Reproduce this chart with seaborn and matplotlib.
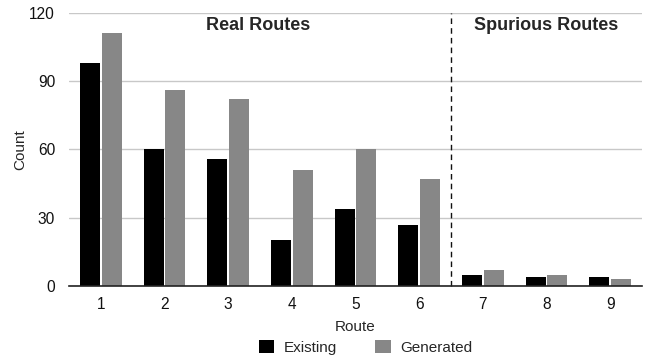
import matplotlib
matplotlib.use("Agg")
import matplotlib.pyplot as plt
import seaborn as sns
import pandas as pd
from matplotlib.patches import Patch

routes = ["1", "2", "3", "4", "5", "6", "7", "8", "9"]
existing = [98, 60, 56, 20, 34, 27, 5, 4, 4]
generated = [111, 86, 82, 51, 60, 47, 7, 5, 3]
series = ["Existing", "Generated"]
colors = ["#000000", "#878787"]
y_ticks = [0, 30, 60, 90, 120]

df = pd.DataFrame({
    "Route": routes * 2,
    "Count": existing + generated,
    "Series": [series[0]] * len(routes) + [series[1]] * len(routes),
})

sns.set_theme(style="white")
plt.rcParams["font.family"] = ["Liberation Sans", "DejaVu Sans"]

fig = plt.figure(figsize=(6.46, 3.6), dpi=100)
ax = fig.add_axes([0.1068, 0.2056, 0.887, 0.7583])

sns.barplot(data=df, x="Route", y="Count", hue="Series", order=routes,
            hue_order=series, palette=colors, width=0.69, gap=0.09,
            saturation=1, linewidth=0, ax=ax, legend=False)

ax.set_ylim(0, 120)
ax.set_xlim(-0.5, len(routes) - 0.5)
ax.set_yticks(y_ticks)
ax.yaxis.grid(True, color="#c8c8c8", linewidth=1)
ax.set_axisbelow(True)
for side in ["top", "right", "left"]:
    ax.spines[side].set_visible(False)
ax.spines["bottom"].set_color("#222222")
ax.spines["bottom"].set_linewidth(1.2)
ax.tick_params(axis="both", length=0, labelsize=11.2, colors="#111111")
ax.tick_params(axis="x", pad=8)
ax.tick_params(axis="y", pad=10)
ax.set_xlabel("Route", fontsize=11, labelpad=6)
ax.set_ylabel("Count", fontsize=11)
ax.yaxis.set_label_coords(-0.073, 0.5)

# Separator between real and spurious routes
ax.axvline(5.5, color="#111111", linestyle=(0, (4, 3)), linewidth=1, clip_on=False)

ax.text(2.47, 114.7, "Real Routes", ha="center", va="center",
        fontsize=13, fontweight="bold")
ax.text(7.0, 114.7, "Spurious Routes", ha="center", va="center",
        fontsize=13, fontweight="bold")

handles = [Patch(facecolor=c, edgecolor="none") for c in colors]
fig.legend(handles, series, loc="center", bbox_to_anchor=(0.566, 0.036),
           ncol=2, frameon=False, fontsize=11, handlelength=1.0,
           handleheight=1.0, columnspacing=2.5, handletextpad=0.65,
           borderpad=0, borderaxespad=0)

fig.savefig("out.png", dpi=100)
